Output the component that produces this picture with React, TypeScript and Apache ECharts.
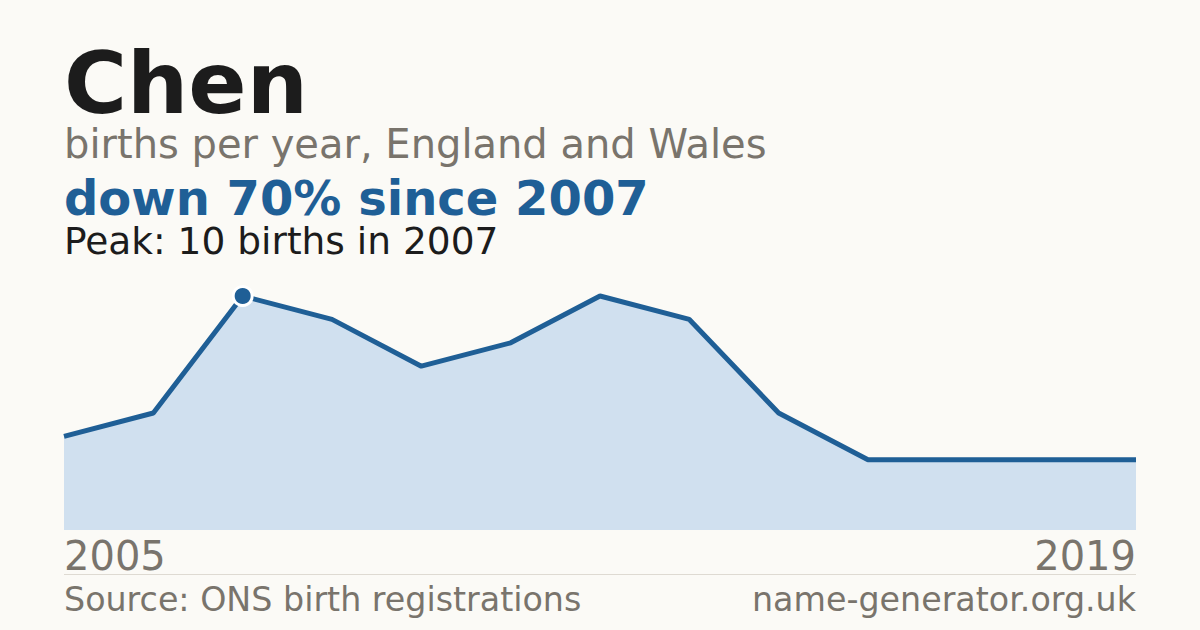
import * as echarts from 'echarts';
import { useEffect, useRef } from 'react';

// data
const years = ['2005', '2006', '2007', '2008', '2009', '2010', '2011', '2012', '2013', '2014', '2017', '2018', '2019'];
const births = [4, 5, 10, 9, 7, 8, 10, 9, 5, 3, 3, 3, 3];
const peakIndex = 2;

const title = 'Chen';
const subtitle = 'births per year, England and Wales';
const headline = 'down 70% since 2007';
const peakNote = 'Peak: 10 births in 2007';
const sourceNote = 'Source: ONS birth registrations';
const siteNote = 'name-generator.org.uk';

const FONT = '"DejaVu Sans", sans-serif';
const BLUE = '#1f5f96';
const GREY = '#79746c';

const getOptions = (): echarts.EChartsOption => ({
  animation: false,
  backgroundColor: '#fbfaf6',
  textStyle: { fontFamily: FONT },
  grid: { left: 64, right: 64, top: 296, bottom: 100 },
  xAxis: {
    type: 'category',
    data: years,
    boundaryGap: false,
    axisLine: { show: false },
    axisTick: { show: false },
    splitLine: { show: false },
    axisLabel: {
      interval: (i: number) => i === 0 || i === years.length - 1,
      alignMinLabel: 'left',
      alignMaxLabel: 'right',
      color: GREY,
      fontSize: 40,
      fontFamily: FONT,
      margin: 6,
    },
  },
  yAxis: {
    type: 'value',
    min: 0,
    max: 10,
    show: false,
  },
  series: [
    {
      type: 'line',
      clip: false,
      symbol: 'none',
      showSymbol: true,
      data: births.map((v, i) =>
        i === peakIndex
          ? {
              value: v,
              symbol: 'circle',
              symbolSize: 19,
              itemStyle: { color: BLUE, borderColor: '#ffffff', borderWidth: 3 },
            }
          : v,
      ),
      lineStyle: { color: BLUE, width: 5 },
      areaStyle: { color: '#d0e0ef', opacity: 1 },
      z: 2,
    },
  ],
  graphic: [
    {
      type: 'text',
      x: 64,
      y: 83,
      style: { text: title, font: `bold 86px ${FONT}`, fill: '#1c1c1c', verticalAlign: 'middle', lineHeight: 70 },
    },
    {
      type: 'text',
      x: 64,
      y: 144,
      style: { text: subtitle, font: `40px ${FONT}`, fill: GREY, verticalAlign: 'middle', lineHeight: 36 },
    },
    {
      type: 'text',
      x: 64,
      y: 198,
      style: { text: headline, font: `bold 48px ${FONT}`, fill: BLUE, verticalAlign: 'middle', lineHeight: 40 },
    },
    {
      type: 'text',
      x: 64,
      y: 240.5,
      style: { text: peakNote, font: `37.5px ${FONT}`, fill: '#1c1c1c', verticalAlign: 'middle', lineHeight: 32 },
    },
    {
      type: 'line',
      shape: { x1: 64, y1: 574.5, x2: 1136, y2: 574.5 },
      style: { stroke: '#dedad2', lineWidth: 1 },
    },
    {
      type: 'text',
      x: 64,
      y: 599,
      style: { text: sourceNote, font: `33.3px ${FONT}`, fill: GREY, verticalAlign: 'middle' },
    },
    {
      type: 'text',
      x: 1136,
      y: 599,
      style: { text: siteNote, font: `33.3px ${FONT}`, fill: GREY, align: 'right', verticalAlign: 'middle' },
    },
  ],
});

export default function App() {
  const chartRef = useRef<HTMLDivElement>(null);

  useEffect(() => {
    document.body.style.margin = '0';
    if (!chartRef.current) return;
    const chart = echarts.init(chartRef.current, undefined, { renderer: 'svg' });
    chart.setOption(getOptions());
    return () => {
      chart.dispose();
    };
  }, []);

  return <div ref={chartRef} style={{ width: 1200, height: 630 }} />;
}
